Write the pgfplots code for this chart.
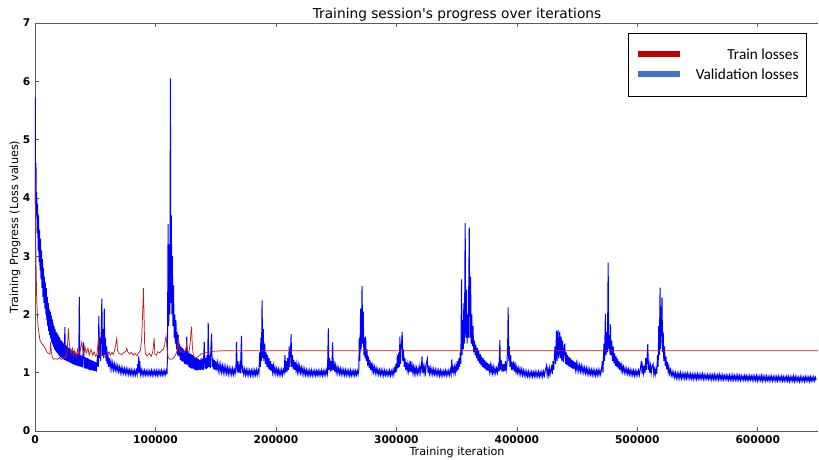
\documentclass[border=0pt]{standalone}
\usepackage{fontspec}
\setmainfont{DejaVu Sans}
\newfontfamily\plainfont{DejaVu Sans}
\newfontfamily\carlito{Carlito}
\usepackage{pgfplots}
\pgfplotsset{compat=1.18}
\definecolor{trainred}{RGB}{178,34,34}
\definecolor{valblue}{RGB}{0,0,255}
\definecolor{legred}{RGB}{192,0,0}
\definecolor{legblue}{RGB}{68,114,196}
\definecolor{spine}{RGB}{90,90,90}
\pgfplotsset{legline/.style={legend image code/.code={\draw[#1] (0pt,0.5pt) -- (31.5pt,0.5pt);}}}
\begin{document}
\begin{tikzpicture}
\useasboundingbox (-26.25pt,-21.75pt) rectangle (588pt,323.25pt);
\begin{axis}[
  at={(0,0)}, anchor=south west,
  scale only axis, width=587.25pt, height=306pt,
  xmin=0, xmax=650, ymin=0, ymax=7,
  axis x line*=box, axis y line*=left,
  axis line style={draw=spine,-},
  every outer x axis line/.append style={-},
  every outer y axis line/.append style={-},
  xtick={0,100,200,300,400,500,600},
  xticklabels={0,100000,200000,300000,400000,500000,600000},
  ytick={0,1,2,3,4,5,6,7},
  tick align=inside, major tick length=3pt,
  tick style={draw=spine, line width=0.5pt},
  /pgf/number format/assume math mode=true,
  ticklabel style={font=\bfseries\fontsize{8}{9}\selectfont},
  title={Training session's progress over iterations},
  title style={at={(axis description cs:0.539,1.0)}, anchor=center, font=\plainfont\fontsize{10.3}{12}\selectfont},
  xlabel={Training iteration},
  xlabel style={at={(axis description cs:0.539,-0.0515)}, anchor=center, font=\fontsize{8.4}{10}\selectfont},
  ylabel={Training Progress (Loss values)},
  ylabel style={at={(axis description cs:-0.0255,0.5)}, anchor=center, font=\fontsize{8.4}{10}\selectfont},
  legend cell align=right,
  legend style={at={(axis description cs:0.986,0.9755)}, anchor=north east,
    draw=black, line width=0.6pt, fill=white,
    font=\carlito\fontsize{11.5}{13}\selectfont,
    nodes={inner sep=1pt},
    inner xsep=5pt, inner ysep=10.5pt, row sep=3.5pt,
    /tikz/every odd column/.append style={column sep=8.5pt}},
]
\addlegendimage{legred, line width=4.5pt, legline}
\addlegendentry{Train losses}
\addlegendimage{legblue, line width=4.5pt, legline}
\addlegendentry{Validation losses}

\addplot[valblue, line width=0.75pt, forget plot] coordinates {
(0,3.9)(0.2,5.73)(0.5,4.0)(0.8,4.6)(1.1,3.7)(1.4,4.1)(1.8,3.4)(2.2,3.9)(2.6,3.1)(3,3.7)(3.4,2.9)(3.8,3.45)(4.2,2.75)(4.6,3.3)(5,2.6)(5.4,3.1)(5.8,2.45)(6.2,2.95)(6.6,2.3)(7,2.8)(7.4,2.2)(7.8,2.65)(8.2,2.1)(8.6,2.55)(9,2.0)(9.4,2.45)(9.8,1.9)(10.2,2.3)(10.6,1.8)(11,2.2)(11.4,1.72)(11.8,2.1)(12.2,1.65)(12.7,2.05)(13.1,1.58)(13.5,1.98)(13.9,1.52)(14.3,1.92)(14.7,1.48)(15.1,1.85)(15.5,1.44)(15.9,1.8)(16.3,1.4)(16.7,1.75)(17.1,1.37)(17.5,1.7)(17.9,1.35)(18.3,1.68)(18.7,1.33)(19.1,1.65)(19.5,1.31)(19.9,1.62)(20.3,1.29)(20.7,1.6)(21.1,1.27)(21.5,1.56)(21.9,1.26)(22.3,1.54)(22.7,1.24)(23.1,1.52)(23.5,1.23)(23.9,1.5)(24.3,1.22)(24.8,1.78)(25.3,1.21)(25.8,1.47)(26.3,1.2)(26.8,1.45)(27.3,1.19)(27.8,1.43)(28.3,1.18)(28.8,1.42)(29.3,1.17)(29.8,1.4)(30.3,1.16)(30.8,1.39)(31.3,1.15)(31.8,1.37)(32.3,1.14)(32.8,1.36)(33.3,1.13)(33.8,1.34)(34.3,1.12)(34.8,1.33)(35.3,1.12)(35.8,1.32)(36.3,1.11)(36.8,2.3)(37.3,1.11)(37.8,1.3)(38.3,1.1)(38.8,1.29)(39.3,1.09)(39.8,1.3)(40.4,1.52)(40.9,1.08)(41.4,1.27)(41.9,1.07)(42.4,1.26)(42.9,1.07)(43.4,1.25)(43.9,1.06)(44.4,1.24)(44.9,1.05)(45.4,1.23)(45.9,1.05)(46.4,1.22)(46.9,1.04)(47.4,1.21)(47.9,1.04)(48.4,1.2)(48.9,1.03)(49.4,1.19)(49.9,1.03)(50.4,1.18)(50.9,1.02)(51.4,1.15)
(52,1.3)(52.5,1.1)(53,1.97)(53.5,1.25)(54,1.6)(54.5,1.2)(55,1.7)(55.5,2.27)(56,1.3)(56.5,1.75)(57,1.25)(57.5,2.1)(58,1.3)(58.5,1.6)(59,1.2)(59.5,1.45)(60,1.15)(60.5,1.35)(61,1.1)(61.7,1.25)(62.4,1.08)(63.1,1.2)(63.8,1.06)(64.5,1.17)(65.2,1.05)(65.9,1.15)(66.6,1.04)(67.3,1.13)(68,1.03)(68.7,1.12)(69.4,1.02)(70.1,1.1)(70.8,1.0)(71.5,1.09)(72.2,0.99)(72.9,1.08)(73.6,0.99)(74.3,1.07)(75,0.98)(75.7,1.07)(76.4,0.98)(77.1,1.06)(77.8,0.97)(78.5,1.05)(79.2,0.97)(79.9,1.05)(80.6,0.96)(81.3,1.04)(82,0.96)(82.7,1.04)(83.4,0.96)(84.1,1.04)(84.8,0.97)(85.3,1.15)(85.7,0.99)(86.1,1.28)(86.5,1.0)(87,1.2)(87.5,0.97)(88.2,1.05)(88.9,0.96)(89.6,1.04)(90.3,0.96)(91,1.04)(91.7,0.96)(92.4,1.03)(93.1,0.96)(93.8,1.04)(94.5,0.96)(95.2,1.03)(95.9,0.96)(96.6,1.04)(97.3,0.95)(98,1.03)(98.7,0.96)(99.4,1.04)(100.1,0.96)(100.8,1.03)(101.5,0.95)(102.2,1.04)(102.9,0.96)(103.6,1.03)(104.3,0.96)(105,1.04)(105.7,0.96)(106.4,1.03)(107.1,0.96)(107.8,1.04)(108.5,0.97)(109.2,1.04)(109.7,0.98)
(110,1.6)(110.5,3.55)(111,1.8)(111.5,3.2)(112,2.0)(112.4,6.05)(112.8,2.2)(113.2,3.7)(113.6,2.0)(114,3.0)(114.5,1.8)(115,2.5)(115.5,1.6)(116,2.0)(116.5,1.5)(117,1.9)(117.5,1.4)(118,1.7)(118.5,1.3)(119,1.65)(119.5,1.28)(120,1.5)(120.6,1.22)(121.2,1.45)(121.8,1.2)(122.4,1.42)(123,1.18)(123.6,1.4)(124.2,1.15)(124.8,1.38)(125.4,1.14)(126,1.62)(126.5,1.14)(127.1,1.36)(127.7,1.1)(128.3,1.34)(128.9,1.08)(129.5,1.32)(130.1,1.07)(130.7,1.3)(131.3,1.06)(131.9,1.28)(132.5,1.05)(133.1,1.26)(133.7,1.04)(134.3,1.25)(134.9,1.04)(135.5,1.24)(136.1,1.05)(136.7,1.22)(137.3,1.05)(137.9,1.25)(138.5,1.05)(139.1,1.24)(139.7,1.05)(140.5,1.53)(141,1.07)(141.6,1.25)(142.2,1.06)(142.8,1.3)(143.3,1.08)(143.8,1.86)(144.3,1.1)(144.9,1.3)(145.5,1.08)(146,1.4)(146.6,1.67)(147.1,1.1)(147.7,1.25)(148.3,1.06)(148.9,1.22)(149.5,1.05)(150.1,1.2)(150.7,1.04)(151.4,1.17)(152.1,1.03)(152.8,1.15)(153.5,1.02)(154.2,1.14)(154.9,1.01)(155.6,1.12)(156.3,1.0)(157,1.11)(157.7,0.99)(158.4,1.1)(159.1,0.99)(159.8,1.09)(160.5,0.98)(161.2,1.08)(161.9,0.98)(162.6,1.07)(163.3,0.97)(164,1.07)(164.7,0.97)(165.4,1.06)(166.1,0.98)(166.8,1.1)(167.3,1.53)(167.8,1.0)(168.5,1.2)(169.2,1.0)(169.9,1.12)(170.5,0.99)(171.4,1.63)(171.9,1.0)(172.6,1.08)(173.3,0.97)(174,1.06)(174.7,0.96)(175.4,1.05)(176.1,0.96)(176.8,1.05)(177.5,0.96)(178.2,1.04)(178.9,0.95)(179.6,1.04)(180.3,0.96)(181,1.05)(181.7,0.95)(182.4,1.04)(183.1,0.96)(183.8,1.05)(184.5,0.96)(185.2,1.04)(185.9,0.98)(186.5,1.35)(187,1.1)(187.5,1.6)(188,1.2)(188.5,2.24)(189,1.25)(189.5,1.75)(190,1.2)(190.7,1.5)(191.3,1.15)(191.9,1.35)(192.5,1.1)(193.1,1.3)(193.7,1.07)(194.3,1.25)(194.9,1.05)(195.5,1.2)(196.1,1.03)(196.7,1.15)(197.3,1.01)(197.9,1.12)(198.5,0.99)(199.2,1.09)(199.9,0.98)(200.6,1.07)(201.3,0.97)(202,1.06)(202.7,0.96)(203.4,1.05)(204.1,0.96)(204.8,1.05)(205.5,0.96)(206.2,1.05)(206.9,1.0)(207.5,1.3)(208,1.0)(208.6,1.2)(209.2,1.02)(209.8,1.25)(210.4,1.05)(211,1.45)(211.5,1.1)(212,1.3)(212.6,1.66)(213.1,1.1)(213.7,1.3)(214.3,1.06)(214.9,1.22)(215.5,1.05)(216.1,1.18)(216.7,1.04)(217.3,1.15)(217.9,1.02)(218.5,1.13)(219.1,1.01)(219.7,1.11)(220.4,1.0)(221.1,1.09)(221.8,0.98)(222.5,1.08)(223.2,0.97)(223.9,1.06)(224.6,0.96)(225.3,1.05)(226,0.96)(226.7,1.04)(227.4,0.95)(228.1,1.04)(228.8,0.96)(229.5,1.04)(230.2,0.95)(230.9,1.03)(231.6,0.96)(232.3,1.04)(233,0.95)(233.7,1.03)(234.4,0.96)(235.1,1.04)(235.8,0.95)(236.5,1.03)(237.2,0.96)(237.9,1.04)(238.6,0.95)(239.3,1.03)(240,0.96)(240.7,1.04)(241.4,0.96)(242.1,1.05)(242.8,0.98)(243.5,1.76)(244,1.05)(244.6,1.25)(245.2,1.02)(245.8,1.2)(246.4,1.03)(247.1,1.52)(247.6,1.05)(248.2,1.2)(248.8,1.02)(249.4,1.12)(250,1.0)(250.7,1.1)(251.4,0.99)(252.1,1.08)(252.8,0.98)(253.5,1.07)(254.2,0.97)(254.9,1.06)(255.6,0.97)(256.3,1.05)(257,0.96)(257.7,1.05)(258.4,0.96)(259.1,1.04)(259.8,0.96)(260.5,1.04)(261.2,0.95)(261.9,1.04)(262.6,0.95)(263.3,1.03)(264,0.96)(264.7,1.04)(265.4,0.95)(266.1,1.03)(266.8,0.96)(267.5,1.04)(268.2,0.97)(268.8,1.05)(269.2,1.6)(269.7,1.2)(270.3,2.1)(270.8,1.4)(271.5,2.49)(272,1.5)(272.5,2.05)(273,1.3)(273.5,1.6)(274,1.25)(274.5,1.62)(275,1.2)(275.6,1.4)(276.2,1.12)(276.8,1.28)(277.4,1.08)(278,1.22)(278.6,1.05)(279.2,1.17)(279.8,1.03)(280.4,1.13)(281.1,1.01)(281.8,1.1)(282.5,0.99)(283.2,1.08)(283.9,0.98)(284.6,1.06)(285.3,0.97)(286,1.05)(286.7,0.96)(287.4,1.05)(288.1,0.96)(288.8,1.04)(289.5,0.95)(290.2,1.04)(290.9,0.96)(291.6,1.03)(292.3,0.95)(293,1.03)(293.7,0.96)(294.4,1.04)(295.1,0.95)(295.8,1.03)(296.5,0.96)(297.2,1.05)(297.9,0.97)(298.5,1.1)(299,1.0)(299.6,1.15)(300.2,1.02)(300.8,1.3)(301.4,1.08)(302,1.35)(302.5,1.1)(302.9,1.62)(303.4,1.15)(303.9,1.4)(304.3,1.5)(304.8,1.7)(305.3,1.2)(305.9,1.4)(306.5,1.1)(307.1,1.25)(307.7,1.05)(308.3,1.18)(308.9,1.04)(309.5,1.15)(310.1,1.03)(310.7,1.14)(311.3,1.02)(311.9,1.2)(312.5,1.01)(313.1,1.12)(313.7,1.0)(314.3,1.1)(314.9,0.99)(315.5,1.09)(316.1,0.99)(316.7,1.08)(317.4,0.98)(318.1,1.08)(318.8,0.99)(319.5,1.12)(320.2,1.0)(320.8,1.1)(321.3,1.28)(321.8,1.0)(322.4,1.1)(323,0.99)(323.6,1.1)(324.2,1.0)(324.8,1.15)(325.7,1.24)(326.3,1.0)(326.9,1.12)(327.5,0.99)(328.1,1.08)(328.8,0.98)(329.5,1.07)(330.2,0.97)(330.9,1.06)(331.6,0.97)(332.3,1.05)(333,0.96)(333.7,1.05)(334.4,0.96)(335.1,1.04)(335.8,0.95)(336.5,1.04)(337.2,0.95)(337.9,1.03)(338.6,0.95)(339.3,1.03)(340,0.96)(340.7,1.04)(341.4,0.95)(342.1,1.03)(342.8,0.96)(343.5,1.04)(344.2,0.96)(344.9,1.05)(345.5,0.98)(346,1.23)(346.5,1.0)(347.1,1.08)(347.7,0.99)(348.3,1.1)(348.9,1.0)(349.5,1.12)(350.1,1.02)(350.7,1.2)(351.3,1.05)(351.9,1.25)(352.5,1.1)(353,1.35)(353.5,1.15)(354.1,2.6)(354.6,1.3)(355,1.9)(355.5,1.4)(356,2.2)(356.5,1.5)(357.1,3.57)(357.6,1.6)(358.2,2.42)(358.7,1.5)(359.2,2.0)(359.7,1.6)(360.5,3.49)(361,1.6)(361.6,2.65)(362.1,1.5)(362.6,2.0)(363.1,1.45)(363.6,1.8)(364.2,1.35)(364.8,1.55)(365.4,1.3)(366,1.48)(366.6,1.25)(367.2,1.42)(367.8,1.2)(368.4,1.38)(369,1.16)(369.6,1.32)(370.2,1.13)(370.8,1.28)(371.4,1.1)(372,1.25)(372.6,1.08)(373.2,1.22)(373.8,1.06)(374.4,1.19)(375,1.04)(375.6,1.17)(376.2,1.03)(376.8,1.15)(377.4,1.02)(378,1.13)(378.6,1.01)(379.2,1.11)(379.8,1.0)(380.4,1.1)(381.1,0.99)(381.8,1.08)(382.5,0.99)(383.2,1.08)(383.9,1.0)(384.6,1.12)(385.3,1.02)(385.9,1.56)(386.4,1.05)(387,1.22)(387.6,1.02)(388.2,1.15)(388.8,1.02)(389.4,1.15)(390,1.03)(390.6,1.2)(391.2,1.05)(391.8,1.15)(392.4,1.5)(392.8,2.12)(393.3,1.2)(393.8,1.45)(394.3,1.1)(394.9,1.3)(395.5,1.05)(396.1,1.18)(396.7,1.04)(397.5,1.2)(398.1,1.02)(398.7,1.12)(399.3,1.01)(399.9,1.1)(400.5,1.0)(401.2,1.08)(401.9,0.98)(402.6,1.07)(403.3,0.97)(404,1.06)(404.7,0.96)(405.4,1.04)(406.1,0.95)(406.8,1.03)(407.5,0.94)(408.2,1.02)(408.9,0.94)(409.6,1.02)(410.3,0.93)(411,1.01)(411.7,0.94)(412.4,1.02)(413.1,0.93)(413.8,1.01)(414.5,0.94)(415.2,1.02)(415.9,0.93)(416.6,1.01)(417.3,0.94)(418,1.02)(418.7,0.93)(419.4,1.01)(420.1,0.94)(420.8,1.02)(421.5,0.93)(422.2,1.02)(422.9,0.95)(423.6,1.04)(424.6,1.12)(425.2,0.96)(425.8,1.05)(426.4,0.96)(427,1.08)(427.6,0.97)(428.2,1.05)(428.8,1.1)(429.4,0.98)(430,1.2)(430.6,1.05)(431.2,1.3)(431.7,1.45)(432.2,1.15)(432.9,1.72)(433.4,1.2)(434.2,1.73)(434.7,1.25)(435.6,1.7)(436.1,1.25)(436.8,1.62)(437.3,1.2)(438,1.55)(438.6,1.18)(439.2,1.4)(439.8,1.5)(440.4,1.15)(441,1.35)(441.6,1.13)(442.2,1.3)(442.8,1.11)(443.4,1.27)(444,1.1)(444.6,1.25)(445.2,1.08)(445.8,1.22)(446.4,1.07)(447,1.2)(447.6,1.06)(448.2,1.18)(448.8,1.05)(449.4,1.16)(450,1.04)(450.7,1.15)(451.4,1.03)(452.1,1.13)(452.8,1.02)(453.5,1.12)(454.2,1.01)(454.9,1.1)(455.6,1.0)(456.3,1.09)(457,0.99)(457.7,1.08)(458.4,0.98)(459.1,1.07)(459.8,0.97)(460.5,1.06)(461.2,0.97)(461.9,1.05)(462.6,0.96)(463.3,1.05)(464,0.96)(464.7,1.04)(465.4,0.95)(466.1,1.04)(466.8,0.96)(467.5,1.05)(468.2,0.96)(468.9,1.04)(469.6,0.97)(470.3,1.06)(471,1.2)(471.5,1.0)(472.3,1.5)(472.8,1.2)(473.5,2.01)(474,1.3)(474.6,1.7)(475.2,1.35)(475.8,2.89)(476.3,1.4)(476.9,1.65)(477.4,1.3)(477.7,1.83)(478.2,1.3)(478.8,1.55)(479.4,1.2)(480,1.45)(480.6,1.16)(481.2,1.33)(481.8,1.12)(482.4,1.28)(483,1.1)(483.6,1.24)(484.2,1.07)(484.8,1.2)(485.4,1.05)(486,1.17)(486.6,1.04)(487.2,1.13)(487.8,1.02)(488.5,1.1)(489.2,1.0)(489.9,1.08)(490.6,0.99)(491.3,1.07)(492,0.98)(492.7,1.06)(493.4,0.97)(494.1,1.05)(494.8,0.96)(495.5,1.04)(496.2,0.96)(496.9,1.04)(497.6,0.95)(498.3,1.03)(499,0.95)(499.7,1.03)(500.4,0.96)(501.1,1.04)(501.8,0.96)(502.5,1.06)(503.4,1.2)(504,0.98)(504.6,1.1)(505.2,0.99)(505.8,1.12)(506.4,1.0)(507,1.25)(507.6,1.05)(508.2,1.3)(508.7,1.49)(509.2,1.05)(509.8,1.15)(510.4,1.0)(511,1.12)(511.6,1.0)(512.2,1.1)(513.1,1.15)(513.7,0.98)(514.3,1.06)(514.9,0.97)(515.5,1.06)(516.1,0.98)(516.8,1.3)(517.3,1.1)(517.8,1.8)(518.3,1.3)(518.9,2.46)(519.4,1.4)(520,1.9)(520.5,2.29)(521,1.35)(521.5,1.7)(522,1.2)(522.6,1.45)(523.2,1.12)(523.8,1.28)(524.4,1.06)(525,1.18)(525.6,1.02)(526.2,1.1)(526.8,0.98)(527.5,1.05)(528.2,0.95)(528.9,1.02)(529.6,0.94)(530.3,1.01)(531,0.92)(531.7,1.0)
(532.4,0.91)(533.1,0.99)(533.8,0.90)(534.5,0.99)(535.2,0.91)(535.9,1.0)(536.6,0.90)(537.3,0.98)(538,0.91)(538.7,0.99)(539.4,0.90)(540.1,0.98)(540.8,0.90)(541.5,0.99)(542.2,0.91)(542.9,0.98)(543.6,0.90)(544.3,0.98)(545,0.90)(545.7,0.97)(546.4,0.89)(547.1,0.98)(547.8,0.90)(548.5,0.97)(549.2,0.89)(549.9,0.98)(550.6,0.90)(551.3,0.97)(552,0.89)(552.7,0.97)(553.4,0.90)(554.1,0.98)(554.8,0.89)(555.5,0.97)(556.2,0.89)(556.9,0.96)(557.6,0.90)(558.3,0.97)(559,0.89)(559.7,0.96)(560.4,0.89)(561.1,0.97)(561.8,0.88)(562.5,0.96)(563.2,0.89)(563.9,0.97)(564.6,0.88)(565.3,0.96)(566,0.89)(566.7,0.96)(567.4,0.88)(568.1,0.97)(568.8,0.89)(569.5,0.96)(570.2,0.88)(570.9,0.96)(571.6,0.88)(572.3,0.95)(573,0.89)(573.7,0.96)(574.4,0.88)(575.1,0.95)(575.8,0.88)(576.5,0.96)(577.2,0.88)(577.9,0.95)(578.6,0.87)(579.3,0.96)(580,0.88)(580.7,0.95)(581.4,0.88)(582.1,0.95)(582.8,0.87)(583.5,0.96)(584.2,0.88)(584.9,0.95)(585.6,0.87)(586.3,0.95)(587,0.88)(587.7,0.94)(588.4,0.87)(589.1,0.95)(589.8,0.88)(590.5,0.95)(591.2,0.87)(591.9,0.94)(592.6,0.87)(593.3,0.95)(594,0.88)(594.7,0.94)(595.4,0.87)(596.1,0.95)(596.8,0.87)(597.5,0.94)(598.2,0.87)(598.9,0.95)(599.6,0.86)(600.3,0.94)(601,0.87)(601.7,0.94)(602.4,0.87)(603.1,0.95)(603.8,0.86)(604.5,0.94)(605.2,0.87)(605.9,0.94)(606.6,0.86)(607.3,0.94)(608,0.87)(608.7,0.93)(609.4,0.86)(610.1,0.94)(610.8,0.87)(611.5,0.94)(612.2,0.86)(612.9,0.93)(613.6,0.87)(614.3,0.94)(615,0.86)(615.7,0.93)(616.4,0.86)(617.1,0.94)(617.8,0.87)(618.5,0.93)(619.2,0.86)(619.9,0.94)(620.6,0.86)(621.3,0.93)(622,0.86)(622.7,0.93)(623.4,0.86)(624.1,0.94)(624.8,0.86)(625.5,0.93)(626.2,0.85)(626.9,0.93)(627.6,0.86)(628.3,0.93)(629,0.86)(629.7,0.94)(630.4,0.85)(631.1,0.93)(631.8,0.86)(632.5,0.93)(633.2,0.86)(633.9,0.92)(634.6,0.85)(635.3,0.93)(636,0.86)(636.7,0.93)(637.4,0.86)(638.1,0.92)(638.8,0.85)(639.5,0.93)(640.2,0.86)(640.9,0.93)(641.6,0.86)(642.3,0.92)(643,0.85)(643.7,0.93)(644.4,0.86)(645.1,0.92)(645.8,0.86)(646.5,0.93)(647.2,0.86)(647.9,0.92)(648.5,0.88)
};

\addplot[trainred, line width=0.55pt, forget plot] coordinates {
(0,4.4)(0.8,3.0)(1.4,2.25)(2.5,1.8)(4.1,1.56)(5.5,1.5)(6.9,1.47)(8.5,1.42)(9.7,1.36)(11,1.33)(12.4,1.32)(13,1.53)(13.6,1.35)(14.5,1.26)(15.2,1.23)(17,1.24)(19,1.23)(20.5,1.26)(21.5,1.23)(23,1.24)(24.5,1.27)(25.5,1.25)(26.5,1.35)(27.2,1.55)(27.7,1.76)(28.3,1.55)(29,1.42)(30,1.33)(31,1.42)(32,1.3)(33,1.38)(34.3,1.27)(35.3,1.4)(36.3,1.3)(37.5,1.38)(38.9,1.53)(39.6,1.4)(40.5,1.32)(41.5,1.45)(42.5,1.33)(44,1.42)(45,1.3)(46.5,1.4)(48,1.3)(49,1.36)(50.5,1.28)(51.5,1.33)(52.2,1.48)(52.7,1.61)(53.3,1.38)(54.2,1.28)(56,1.3)(58,1.27)(60,1.31)(61.5,1.36)(62.5,1.3)(64,1.35)(65,1.31)(66,1.38)(67.2,1.5)(67.9,1.59)(68.5,1.38)(70,1.33)(72,1.31)(74,1.35)(75.5,1.37)(76.2,1.42)(77,1.36)(78.5,1.32)(80,1.35)(81.5,1.3)(83,1.33)(84.5,1.29)(86,1.34)(87.5,1.38)(88.6,1.6)(89.4,2.05)(90,2.45)(90.5,2.0)(91,1.5)(91.7,1.32)(93,1.29)(95,1.33)(96.5,1.28)(97.8,1.36)(98.9,1.59)(99.5,1.32)(100.8,1.3)(102,1.36)(103.5,1.34)(105,1.38)(106.5,1.4)(107.6,1.47)(108.3,1.58)(108.8,1.63)(109.5,1.45)(110.5,1.26)(112,1.23)(113.4,1.23)(115,1.25)(116.5,1.3)(117.7,1.36)(118.5,1.46)(119,1.62)(119.6,1.42)(120.5,1.36)(122,1.38)(123.5,1.34)(125,1.38)(125.9,1.5)(126.6,1.36)(128,1.37)(129,1.55)(129.6,1.72)(130,1.79)(130.6,1.45)(131.5,1.3)(132.8,1.25)(135,1.27)(138,1.32)(141,1.34)(143.8,1.35)(146.5,1.36)(149,1.37)(155,1.375)(650,1.375)
};
\end{axis}
\end{tikzpicture}
\end{document}
